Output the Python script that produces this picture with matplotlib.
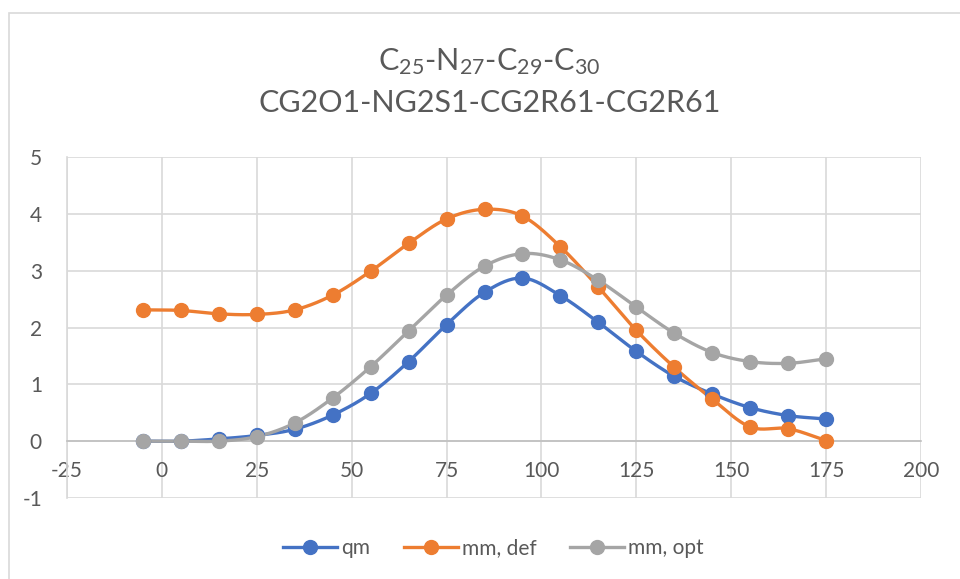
import numpy as np
import matplotlib.pyplot as plt
from matplotlib.patches import Rectangle

plt.rcParams['font.family'] = ['Lato', 'DejaVu Sans']
plt.rcParams['mathtext.default'] = 'regular'
plt.rcParams['axes.unicode_minus'] = False

# dihedral angle (deg) and energies
angle = [-5, 5, 15, 25, 35, 45, 55, 65, 75, 85, 95, 105, 115, 125, 135, 145, 155, 165, 175]
qm = [0.0, 0.0, 0.04, 0.1, 0.21, 0.46, 0.84, 1.4, 2.05, 2.62, 2.87, 2.56, 2.09, 1.58, 1.14, 0.83, 0.59, 0.45, 0.39]
mm_def = [2.31, 2.3, 2.24, 2.23, 2.31, 2.57, 2.99, 3.48, 3.91, 4.08, 3.96, 3.42, 2.71, 1.95, 1.3, 0.74, 0.25, 0.22, 0.01]
mm_opt = [0.0, 0.0, 0.0, 0.08, 0.32, 0.76, 1.31, 1.94, 2.57, 3.08, 3.3, 3.19, 2.83, 2.36, 1.9, 1.56, 1.4, 1.37, 1.45]


def smooth(x, y, n=20):
    # catmull-rom curve through the points, like Excel's smoothed line
    x = np.asarray(x, float)
    y = np.asarray(y, float)
    px = np.concatenate([[2 * x[0] - x[1]], x, [2 * x[-1] - x[-2]]])
    py = np.concatenate([[2 * y[0] - y[1]], y, [2 * y[-1] - y[-2]]])
    t = np.linspace(0, 1, n)[:, None]
    xs, ys = [], []
    for i in range(1, len(px) - 2):
        for p, out in ((px, xs), (py, ys)):
            p0, p1, p2, p3 = p[i - 1], p[i], p[i + 1], p[i + 2]
            c = 0.5 * ((2 * p1) + (-p0 + p2) * t + (2 * p0 - 5 * p1 + 4 * p2 - p3) * t ** 2
                       + (-p0 + 3 * p1 - 3 * p2 + p3) * t ** 3)
            out.append(c.ravel())
    return np.concatenate(xs), np.concatenate(ys)


fig = plt.figure(figsize=(9.6, 5.79), dpi=100)
fig.patches.append(Rectangle((9 / 960, -0.1), 1.2, 1 - 13 / 579 + 0.1, transform=fig.transFigure,
                             fill=False, ec='#D9D9D9', lw=1.2))
ax = fig.add_axes([67 / 960, 1 - 498 / 579, (921 - 67) / 960, (498 - 157) / 579])

series = [(qm, 'qm', '#4472C4'), (mm_def, 'mm, def', '#ED7D31'), (mm_opt, 'mm, opt', '#A5A5A5')]
for vals, name, col in series:
    sx, sy = smooth(angle, vals)
    ax.plot(sx, sy, color=col, lw=2.4, zorder=3)
    ax.plot(angle, vals, 'o', color=col, ms=10, zorder=4)
    ax.plot([], [], '-o', color=col, lw=2.4, ms=10, label=name)

ax.set_xlim(-25, 200)
ax.set_ylim(-1, 5)
ax.set_xticks(np.arange(-25, 201, 25))
ax.set_yticks(np.arange(-1, 6, 1))
ax.grid(True, color='#D9D9D9', lw=1.2)
ax.set_axisbelow(True)
for s in ['top', 'right']:
    ax.spines[s].set_visible(False)
ax.spines['bottom'].set_position(('data', 0))
ax.spines['bottom'].set_color('#BFBFBF')
ax.spines['left'].set_color('#D9D9D9')
ax.spines['bottom'].set_linewidth(1.2)
ax.spines['left'].set_linewidth(1.2)
ax.tick_params(length=0, labelsize=15, labelcolor='#595959')
ax.tick_params(axis='x', pad=14)
ax.tick_params(axis='y', pad=18)

fig.text(0.51, 0.893, r'C$_{25}$-N$_{27}$-C$_{29}$-C$_{30}$', ha='center', va='center', fontsize=22, color='#595959')
fig.text(0.51, 0.822, 'CG2O1-NG2S1-CG2R61-CG2R61', ha='center', va='center', fontsize=22, color='#595959')

fig.legend(loc='center', bbox_to_anchor=(0.514, 0.053), ncol=3, frameon=False, fontsize=15,
           handlelength=2.6, columnspacing=1.6, handletextpad=0.2, labelcolor='#595959')

fig.savefig('out.png', dpi=100)
